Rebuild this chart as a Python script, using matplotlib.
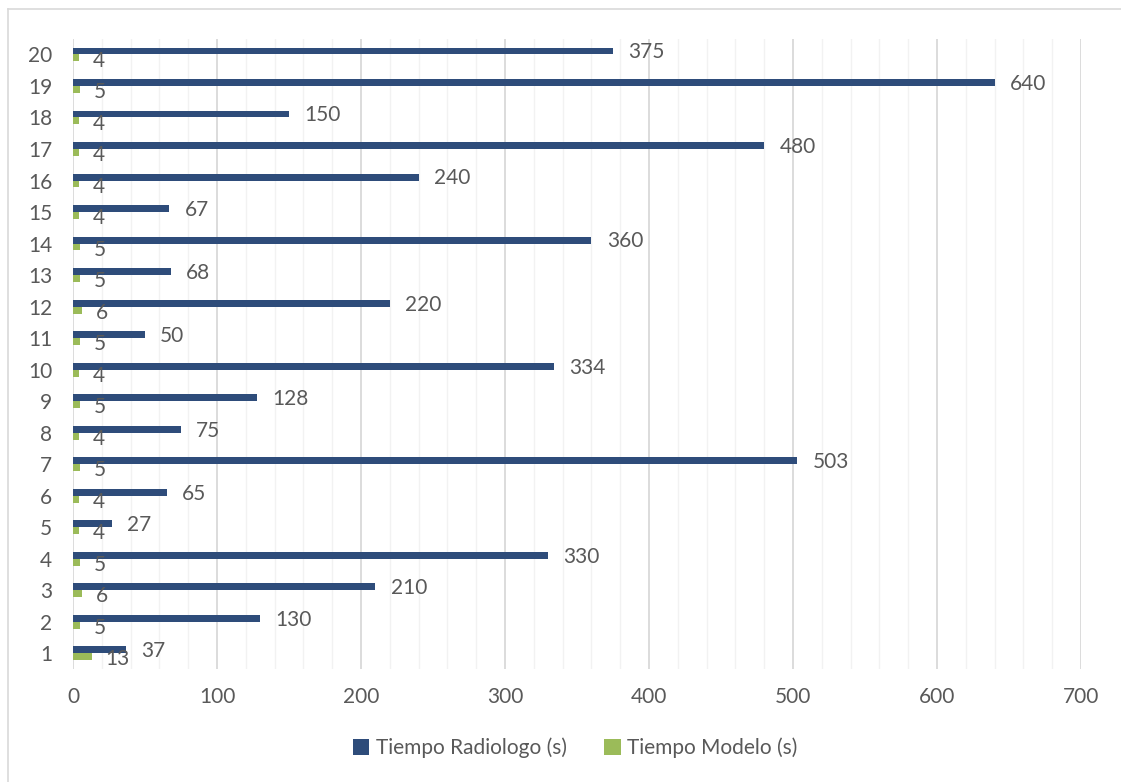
import matplotlib
matplotlib.use("Agg")
import matplotlib.pyplot as plt
from matplotlib.lines import Line2D
from matplotlib.ticker import MultipleLocator
import numpy as np

plt.rcParams['font.family'] = ['Lato', 'DejaVu Sans']

casos = [str(i) for i in range(1, 21)]
tiempo_radiologo = [37, 130, 210, 330, 27, 65, 503, 75, 128, 334,
                    50, 220, 68, 360, 67, 240, 480, 150, 640, 375]
tiempo_modelo = [13, 5, 6, 5, 4, 4, 5, 4, 5, 4,
                 5, 6, 5, 5, 4, 4, 4, 4, 5, 4]
serie_labels = ['Tiempo Radiologo (s)', 'Tiempo Modelo (s)']

azul = '#2E4C7A'
verde = '#9BBB59'
texto = '#595959'
fs = 15

fig = plt.figure(figsize=(11.21, 7.82), dpi=100)
ax = fig.add_axes([0.0651, 0.1445, 0.8992, 0.8060])

y = np.arange(len(casos))
h = 0.22
b1 = ax.barh(y + 0.11, tiempo_radiologo, height=h, color=azul, label=serie_labels[0], zorder=3)
b2 = ax.barh(y - 0.11, tiempo_modelo, height=h, color=verde, label=serie_labels[1], zorder=3)

for yi, v in zip(y, tiempo_radiologo):
    ax.annotate(str(v), (v, yi + 0.11), xytext=(11, -1), textcoords='offset points',
                va='center', ha='left', fontsize=fs, color=texto, zorder=4)
for yi, v in zip(y, tiempo_modelo):
    ax.annotate(str(v), (v, yi - 0.11), xytext=(10, -2), textcoords='offset points',
                va='center', ha='left', fontsize=fs, color=texto, zorder=4)

ax.set_xlim(0, 700)
ax.set_ylim(-0.5, len(casos) - 0.5)
ax.set_yticks(y)
ax.set_yticklabels(casos)
ax.xaxis.set_major_locator(MultipleLocator(100))
ax.xaxis.set_minor_locator(MultipleLocator(20))
ax.grid(axis='x', which='major', color='#D9D9D9', linewidth=1.3, zorder=1)
ax.grid(axis='x', which='minor', color='#F2F2F2', linewidth=1.0, zorder=0)
ax.tick_params(axis='both', which='both', length=0, labelsize=fs, labelcolor=texto)
ax.tick_params(axis='x', pad=13)
ax.tick_params(axis='y', pad=15)
for s in ax.spines.values():
    s.set_visible(False)

fig.legend(handles=[b1, b2], labels=serie_labels, loc='center', ncol=2,
           bbox_to_anchor=(0.513, 0.0435), frameon=False, fontsize=fs,
           labelcolor=texto, handlelength=0.8, handleheight=0.8,
           handletextpad=0.3, columnspacing=1.8)

# outer frame of the chart area
W, H = 1121, 782
fig.add_artist(Line2D([8 / W, 8 / W], [0, 1 - 9 / H], transform=fig.transFigure,
                      color='#D9D9D9', linewidth=1.2))
fig.add_artist(Line2D([8 / W, 1], [1 - 9 / H, 1 - 9 / H], transform=fig.transFigure,
                      color='#D9D9D9', linewidth=1.2))

fig.savefig('out.png', dpi=100)
